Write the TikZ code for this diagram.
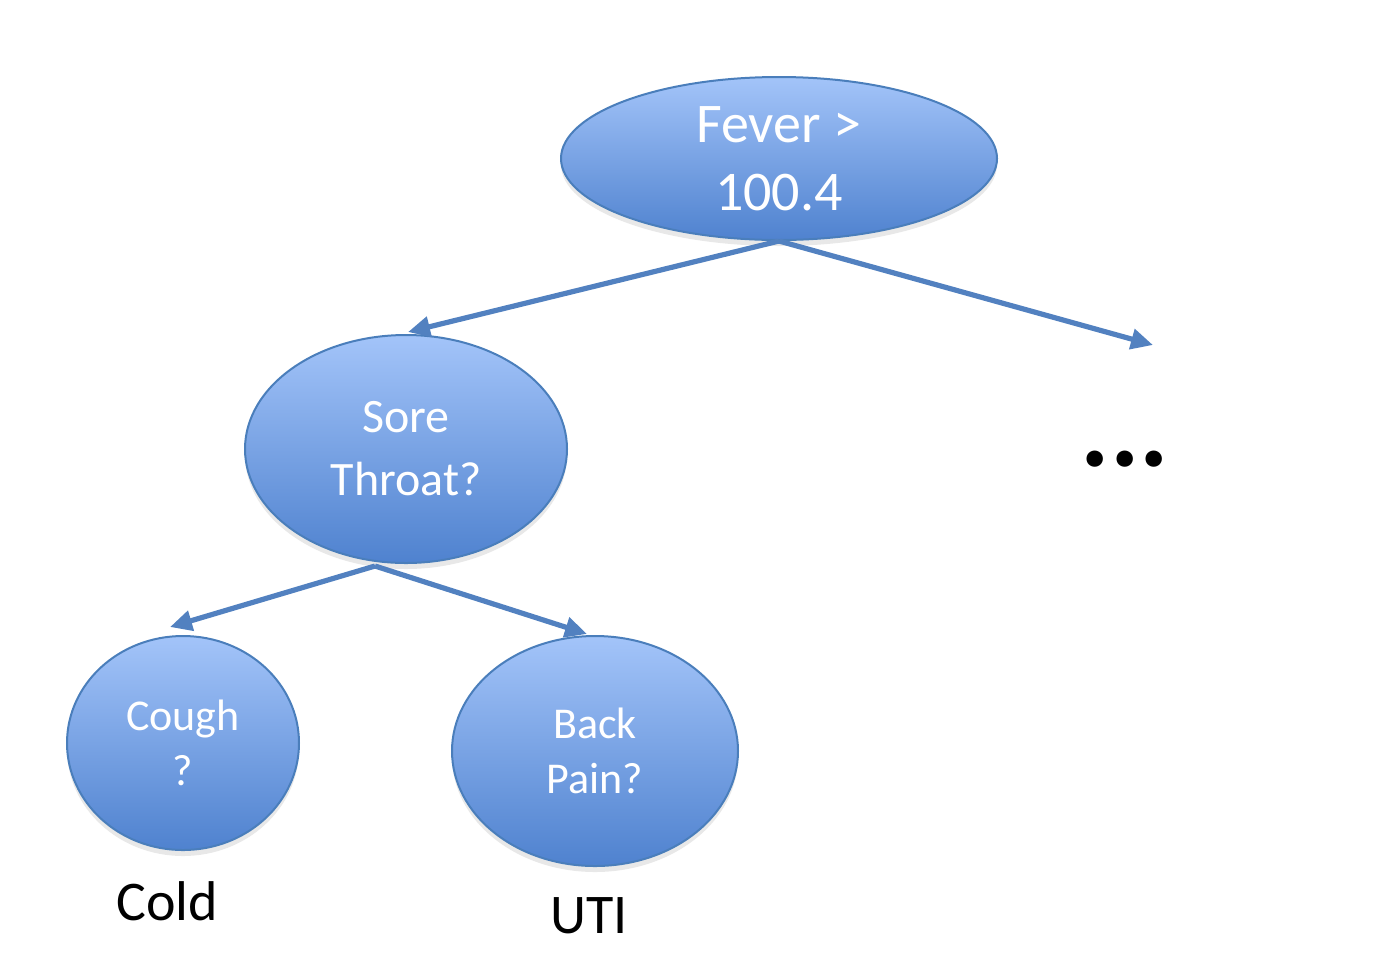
\documentclass[tikz,border=0pt]{standalone}
\usepackage{fontspec}
\setmainfont{Carlito}
\usetikzlibrary{shapes.geometric,arrows.meta,shadows}
\definecolor{topc}{HTML}{A3C4F9}
\definecolor{botc}{HTML}{4F82CF}
\definecolor{edgec}{HTML}{4A7EBB}
\definecolor{arrc}{HTML}{5281C0}
\tikzset{
  bubble/.style={ellipse, draw=edgec, line width=1pt, top color=topc, bottom color=botc,
    text=white, align=center, inner sep=0pt,
    drop shadow={opacity=0.18, shadow xshift=0pt, shadow yshift=-3pt}},
  link/.style={draw=arrc, line width=2.6pt, -{Triangle[length=11pt,width=10pt]}},
  leaf/.style={text=black, anchor=base}
}
\begin{document}
\begin{tikzpicture}[x=0.5pt,y=-0.5pt]
\useasboundingbox (0,0) rectangle (1374,960);
\node[bubble, minimum width=218pt, minimum height=81.5pt,
  font=\fontsize{28}{34}\selectfont] (fever) at (779,158.5) {Fever >\\100.4};
\node[bubble, minimum width=161pt, minimum height=114pt,
  font=\fontsize{24}{31.5}\selectfont] (sore) at (406,449) {Sore\\Throat?};
\node[bubble, minimum width=116pt, minimum height=107pt,
  font=\fontsize{22}{27.5}\selectfont] (cough) at (183,743) {Cough\\?};
\node[bubble, minimum width=143pt, minimum height=115pt,
  font=\fontsize{22}{27.5}\selectfont] (back) at (595,751) {Back\\Pain?};
\coordinate (more) at (1153,345);
\node[leaf, font=\fontsize{55}{60}\selectfont\bfseries] (dots) at (1125,466) {...};
\node[leaf, font=\fontsize{28}{34}\selectfont] (cold) at (167,920) {Cold};
\node[leaf, font=\fontsize{28}{34}\selectfont] (uti) at (589,933) {UTI};
\draw[link] (fever.south) -- ([xshift=1pt,yshift=1pt]sore.north);
\draw[link] (fever.south) -- (more);
\draw[link] ([xshift=-15.5pt,yshift=-1pt]sore.south) -- ([xshift=-6.5pt,yshift=4pt]cough.north);
\draw[link] ([xshift=-15.5pt,yshift=-1pt]sore.south) -- ([xshift=-4pt,yshift=0.5pt]back.north);
\end{tikzpicture}
\end{document}
